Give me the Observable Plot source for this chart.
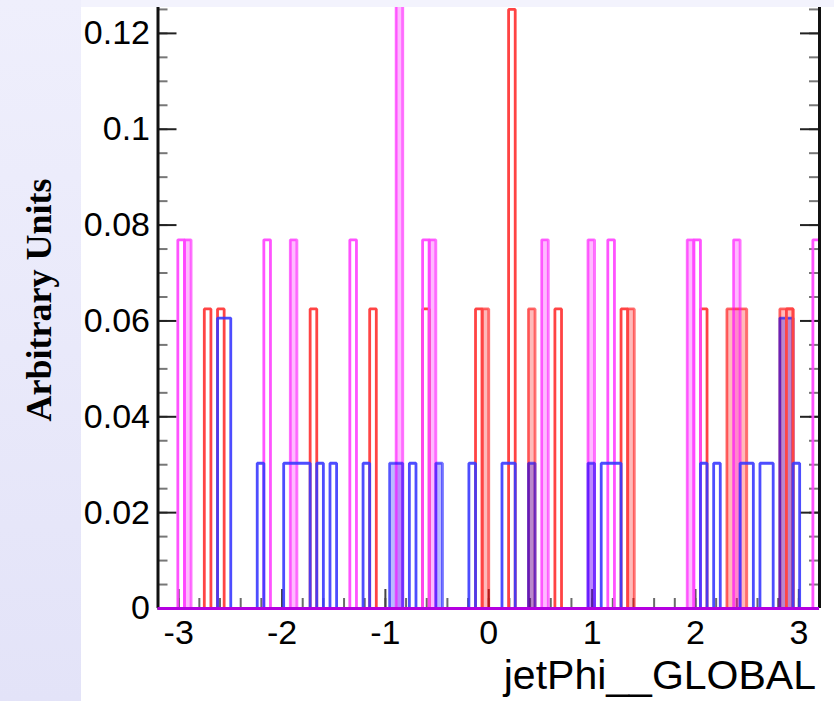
<!DOCTYPE html>
<html>
<head>
<meta charset="utf-8">
<script src="https://cdn.jsdelivr.net/npm/d3@7"></script>
<script src="https://cdn.jsdelivr.net/npm/@observablehq/plot@0.6"></script>
<style>
  html, body { margin: 0; padding: 0; background: #ffffff; }
  #wrap { position: relative; width: 834px; height: 701px; overflow: hidden; background: #ffffff; }
  #leftband { position: absolute; left: 0; top: 0; width: 81px; height: 701px; background: linear-gradient(#efeffc, #e3e3f8); }
  #topband { position: absolute; left: 81px; top: 0; width: 753px; height: 7px; background: #f3f3fd; }
  #chart { position: absolute; left: 0; top: 0; }
  #ytitle { position: absolute; left: 39px; top: 300px; transform: translate(-50%, -50%) rotate(-90deg);
            font: bold 36px "Liberation Serif", serif; white-space: nowrap; color: #000; }
  #xtitle { position: absolute; right: 18px; top: 655px; font: 41px "Liberation Sans", sans-serif;
            line-height: 41px; white-space: nowrap; color: #000; }
</style>
</head>
<body>
<div id="wrap">
  <div id="leftband"></div>
  <div id="topband"></div>
  <div id="chart"></div>
  <div id="ytitle">Arbitrary Units</div>
  <div id="xtitle">jetPhi__GLOBAL</div>
</div>
<script>
// ---- histogram binning (jetPhi axis) ----
const X_MIN = -3.2, X_MAX = 3.2, N_BINS = 100;
const Y_MAX = 0.1254;

// ---- tick values ----
const xMajorTicks = [-3, -2, -1, 0, 1, 2, 3];
const yMajorTicks = [0, 0.02, 0.04, 0.06, 0.08, 0.1, 0.12];

// ---- filled (translucent) histograms: bin index, events, total events ----
const salmonBins   = [49, 56, 71, 86, 87, 88, 94, 95];
const salmonEvents = [1, 1, 1, 1, 1, 1, 1, 1];
const salmonTotal  = 16;

const pinkBins   = [4, 20, 36, 41, 58, 65, 80, 87];
const pinkEvents = [1, 1, 2, 1, 1, 1, 1, 1];
const pinkTotal  = 13;

const lightBlueBins   = [35, 36, 42, 56, 65, 94, 95];
const lightBlueEvents = [1, 1, 1, 1, 1, 2, 2];
const lightBlueTotal  = 33;

// ---- outline histograms ----
const redBins   = [7, 9, 23, 32, 40, 48, 53, 60, 70, 82, 95];
const redEvents = [1, 1, 1, 1, 1, 1, 2, 1, 1, 1, 1];
const redTotal  = 16;

const blueBins   = [9, 10, 15, 19, 20, 21, 22, 24, 26, 31, 38, 47, 52, 53, 67, 68, 69, 82, 84, 88, 89, 91, 92, 96];
const blueEvents = [2, 2, 1, 1, 1, 1, 1, 1, 1, 1, 1, 1, 1, 1, 1, 1, 1, 1, 1, 1, 1, 1, 1, 1];
const blueTotal  = 33;

const magentaBins   = [3, 16, 29, 40, 68, 81, 99];
const magentaEvents = [1, 1, 1, 1, 1, 1, 1];
const magentaTotal  = 13;

// ---- helpers ----
const BIN_W = (X_MAX - X_MIN) / N_BINS;
function histValues(bins, events, total) {
  const v = new Array(N_BINS).fill(0);
  bins.forEach((b, i) => { v[b] += events[i] / total; });
  return v;
}
function stepPoints(v) {
  const pts = [{x: X_MIN, y: 0}];
  v.forEach((y, k) => {
    pts.push({x: X_MIN + k * BIN_W, y});
    pts.push({x: X_MIN + (k + 1) * BIN_W, y});
  });
  pts.push({x: X_MAX, y: 0});
  return pts;
}

const sPts = stepPoints(histValues(salmonBins, salmonEvents, salmonTotal));
const pPts = stepPoints(histValues(pinkBins, pinkEvents, pinkTotal));
const lPts = stepPoints(histValues(lightBlueBins, lightBlueEvents, lightBlueTotal));
const rPts = stepPoints(histValues(redBins, redEvents, redTotal));
const bPts = stepPoints(histValues(blueBins, blueEvents, blueTotal));
const mPts = stepPoints(histValues(magentaBins, magentaEvents, magentaTotal));

const W = 834, H = 701;
const ML = 157.5, MR = 15, MT = 7, MB = 93;
const FRAME_W = W - ML - MR, FRAME_H = H - MT - MB;

const xMinorTicks = d3.range(-32, 33, 2).map(d => d / 10);
const yMinorTicks = d3.range(0, 26).map(d => d * 0.005);

const lineOpts = {x: "x", y: "y", strokeWidth: 2.8, strokeLinejoin: "miter", strokeLinecap: "butt", clip: true, curve: "linear"};
const areaOpts = {x1: "x", y1: d => 0, y2: "y", curve: "linear", clip: true, fillOpacity: 0.27};

const chart = Plot.plot({
  width: W, height: H,
  marginLeft: ML, marginRight: MR, marginTop: MT, marginBottom: MB,
  x: {domain: [X_MIN, X_MAX]},
  y: {domain: [0, Y_MAX]},
  style: {background: "transparent", fontFamily: "'Liberation Sans', Arial, sans-serif", color: "#000"},
  marks: [
    // axis tick marks (drawn inward, ROOT style)
    Plot.tickX(xMinorTicks, {x: d => d, stroke: "#6a6a6a", strokeWidth: 2, insetTop: FRAME_H - 10}),
    Plot.tickX(xMajorTicks, {x: d => d, stroke: "#444", strokeWidth: 2, insetTop: FRAME_H - 19}),
    Plot.tickY(yMinorTicks, {y: d => d, stroke: "#777", strokeWidth: 2, insetRight: FRAME_W - 10}),
    Plot.tickY(yMajorTicks, {y: d => d, stroke: "#222", strokeWidth: 2, insetRight: FRAME_W - 19}),
    Plot.tickY(yMinorTicks, {y: d => d, stroke: "#777", strokeWidth: 2, insetLeft: FRAME_W - 10}),
    Plot.tickY(yMajorTicks, {y: d => d, stroke: "#222", strokeWidth: 2, insetLeft: FRAME_W - 19}),

    // filled translucent histograms
    Plot.area(sPts, {...areaOpts, fill: "#ff0000"}),
    Plot.area(pPts, {...areaOpts, fill: "#ff00ff"}),
    Plot.area(lPts, {...areaOpts, fill: "#0000ff"}),
    Plot.line(sPts, {...lineOpts, stroke: "#ff0000", strokeOpacity: 0.55}),
    Plot.line(pPts, {...lineOpts, stroke: "#ff00ff", strokeOpacity: 0.55}),
    Plot.line(lPts, {...lineOpts, stroke: "#0000ff", strokeOpacity: 0.55}),

    // outline histograms
    Plot.line(rPts, {...lineOpts, stroke: "#ff4444"}),
    Plot.line(mPts, {...lineOpts, stroke: "#ff44ff", strokeOpacity: 0.92}),
    Plot.line(bPts, {...lineOpts, stroke: "#3a3aff", strokeOpacity: 0.9}),

    // frame lines
    Plot.ruleX([X_MIN, X_MAX], {stroke: "#111", strokeWidth: 3}),
    Plot.ruleY([0], {stroke: "#b400e0", strokeWidth: 3}),

    // tick labels
    Plot.axisY(yMajorTicks, {anchor: "left", tickSize: 0, tickPadding: 8, fontSize: 34,
      tickFormat: d => String(+d.toFixed(3)), label: null}),
    Plot.axisX(xMajorTicks, {anchor: "bottom", tickSize: 0, tickPadding: 11, fontSize: 34,
      tickFormat: d => String(d), label: null})
  ]
});
document.getElementById("chart").appendChild(chart);
</script>
</body>
</html>
